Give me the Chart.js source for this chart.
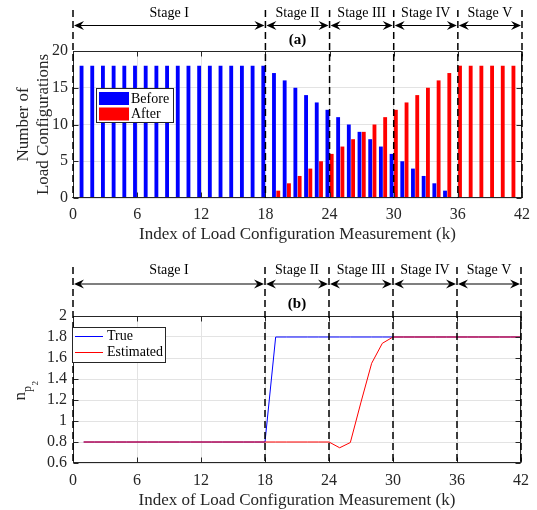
<!DOCTYPE html>
<html><head><meta charset="utf-8">
<script src="https://cdn.jsdelivr.net/npm/chart.js@4.4.1/dist/chart.umd.min.js"></script>
<style>
html,body{margin:0;padding:0;background:#fff;}
canvas{display:block;}
</style></head><body>
<canvas id="topChart" width="537" height="255"></canvas>
<canvas id="botChart" width="537" height="255"></canvas>
<script>
// ---- data ----
const barK = [1,2,3,4,5,6,7,8,9,10,11,12,13,14,15,16,17,18,19,20,21,22,23,24,25,26,27,28,29,30,31,32,33,34,35,36,37,38,39,40,41];
const beforeVals = [18,18,18,18,18,18,18,18,18,18,18,18,18,18,18,18,18,18,17,16,15,14,13,12,11,10,9,8,7,6,5,4,3,2,1,0,0,0,0,0,0];
const afterVals  = [0,0,0,0,0,0,0,0,0,0,0,0,0,0,0,0,0,0,1,2,3,4,5,6,7,8,9,10,11,12,13,14,15,16,17,18,18,18,18,18,18];
const lineK = [1,2,3,4,5,6,7,8,9,10,11,12,13,14,15,16,17,18,19,20,21,22,23,24,25,26,27,28,29,30,31,32,33,34,35,36,37,38,39,40,41,42];
const trueVals = [0.8,0.8,0.8,0.8,0.8,0.8,0.8,0.8,0.8,0.8,0.8,0.8,0.8,0.8,0.8,0.8,0.8,0.8,1.8,1.8,1.8,1.8,1.8,1.8,1.8,1.8,1.8,1.8,1.8,1.8,1.8,1.8,1.8,1.8,1.8,1.8,1.8,1.8,1.8,1.8,1.8,1.8];
const estVals  = [0.8,0.8,0.8,0.8,0.8,0.8,0.8,0.8,0.8,0.8,0.8,0.8,0.8,0.8,0.8,0.8,0.8,0.8,0.8,0.8,0.8,0.8,0.8,0.8,0.745,0.795,1.18,1.55,1.74,1.8,1.8,1.8,1.8,1.8,1.8,1.8,1.8,1.8,1.8,1.8,1.8,1.8];
const stageBounds = [0,18,24,30,36,42];
const stageNames = ['Stage I','Stage II','Stage III','Stage IV','Stage V'];
const xTickVals = [0,6,12,18,24,30,36,42];
const yTicksTop = [0,5,10,15,20];
const yTicksBot = [0.6,0.8,1,1.2,1.4,1.6,1.8,2];
const xTitle = 'Index of Load Configuration Measurement (k)';

const SERIF = "'Liberation Serif','Times New Roman',serif";
const TXT = '#262626';
const GRID = '#e3e3e3';

function head(ctx, tx, ty, dir){
  ctx.beginPath();
  ctx.moveTo(tx, ty);
  ctx.lineTo(tx + dir*10, ty - 4.5);
  ctx.lineTo(tx + dir*6.5, ty);
  ctx.lineTo(tx + dir*10, ty + 4.5);
  ctx.closePath();
  ctx.fill();
}

const framePlugin = {
  id: 'frame',
  afterDatasetsDraw(chart, args, o) {
    const {ctx, chartArea: a, scales: {x, y}} = chart;
    const L = Math.round(a.left)+0.5, R = Math.round(a.right)-0.5, T = Math.round(a.top)+0.5, B = Math.round(a.bottom)-0.5;
    ctx.save();
    ctx.strokeStyle = TXT; ctx.lineWidth = 1;
    ctx.beginPath();
    x.ticks.forEach(t => { const px = Math.round(x.getPixelForValue(t.value))+0.5; ctx.moveTo(px,B); ctx.lineTo(px,B-5); ctx.moveTo(px,T); ctx.lineTo(px,T+5); });
    y.ticks.forEach(t => { const py = Math.round(y.getPixelForValue(t.value))+0.5; ctx.moveTo(L,py); ctx.lineTo(L+5,py); ctx.moveTo(R,py); ctx.lineTo(R-5,py); });
    ctx.stroke();
    ctx.strokeRect(L, T, R-L, B-T);
    // dashed stage boundaries
    ctx.strokeStyle = '#000'; ctx.lineWidth = 1.5; ctx.setLineDash([7,4]);
    stageBounds.forEach(b => {
      const px = x.getPixelForValue(b);
      ctx.beginPath(); ctx.moveTo(px, o.lineTop); ctx.lineTo(px, a.bottom); ctx.stroke();
    });
    ctx.setLineDash([]);
    // arrows + labels
    ctx.lineWidth = 1.2; ctx.fillStyle = '#000';
    ctx.textAlign = 'center'; ctx.textBaseline = 'middle';
    for (let i = 0; i < stageNames.length; i++) {
      const x1 = x.getPixelForValue(stageBounds[i]), x2 = x.getPixelForValue(stageBounds[i+1]);
      ctx.beginPath(); ctx.moveTo(x1+3, o.arrowY); ctx.lineTo(x2-3, o.arrowY); ctx.stroke();
      head(ctx, x1+1, o.arrowY, 1); head(ctx, x2-1, o.arrowY, -1);
      ctx.font = '14px ' + SERIF;
      ctx.fillText(stageNames[i], (x1+x2)/2, o.labelY);
    }
    ctx.font = 'bold 15px ' + SERIF;
    ctx.fillText(o.tag, x.getPixelForValue(o.tagK), o.tagY);
    ctx.restore();
  },
  afterDraw(chart, args, o) {
    const ctx = chart.ctx;
    const lg = o.legend;
    ctx.save();
    ctx.fillStyle = '#fff';
    ctx.fillRect(lg.x, lg.y, lg.w, lg.h);
    ctx.strokeStyle = TXT; ctx.lineWidth = 1;
    ctx.strokeRect(lg.x+0.5, lg.y+0.5, lg.w, lg.h);
    ctx.font = '14px ' + SERIF; ctx.textAlign = 'left'; ctx.textBaseline = 'middle';
    chart.data.datasets.forEach((ds, i) => {
      const ry = lg.rows[i];
      if (lg.kind === 'box') {
        ctx.fillStyle = ds.backgroundColor;
        ctx.fillRect(lg.x+3, ry-6.5, 30, 13);
      } else {
        ctx.strokeStyle = ds.borderColor; ctx.lineWidth = 1;
        ctx.beginPath(); ctx.moveTo(lg.x+3, Math.round(ry)+0.5); ctx.lineTo(lg.x+31, Math.round(ry)+0.5); ctx.stroke();
      }
      ctx.fillStyle = '#000';
      ctx.fillText(ds.label, lg.x + lg.tx, ry + 0.5);
    });
    if (o.npTitle) {
      const a = chart.chartArea;
      const cy = (a.top + a.bottom)/2 + 11;
      ctx.translate(25, cy);
      ctx.rotate(-Math.PI/2);
      ctx.fillStyle = TXT; ctx.textBaseline = 'alphabetic';
      ctx.font = '17px ' + SERIF; ctx.fillText('n', 0, 0);
      ctx.font = '12px ' + SERIF; ctx.fillText('p', 8.5, 6);
      ctx.font = '9px ' + SERIF; ctx.fillText('2', 15, 13);
    }
    ctx.restore();
  }
};

const tickFont = {family: SERIF, size: 16};
const titleFont = {family: SERIF, size: 17, lineHeight: 1.15};
const setTicks = vals => (s => { s.ticks = vals.map(v => ({value: v})); });

// ---- top chart ----
new Chart(document.getElementById('topChart'), {
  type: 'bar',
  data: {
    datasets: [
      {label: 'Before', data: barK.map((k,i)=>({x:k, y:beforeVals[i]})), backgroundColor: '#0000ff', borderWidth: 0},
      {label: 'After',  data: barK.map((k,i)=>({x:k, y:afterVals[i]})),  backgroundColor: '#ff0000', borderWidth: 0}
    ]
  },
  options: {
    responsive: false, animation: false,
    layout: {padding: {left: 0, right: 12, top: 51, bottom: 0}},
    datasets: {bar: {categoryPercentage: 0.8, barPercentage: 0.9}},
    plugins: {
      legend: {display: false}, tooltip: {enabled: false},
      frame: {lineTop: 10, arrowY: 25.5, labelY: 13, tag: '(a)', tagK: 21, tagY: 40,
        legend: {kind: 'box', x: 96, y: 88, w: 77, h: 34, rows: [98.5, 114], tx: 35}}
    },
    scales: {
      x: {type: 'linear', min: 0, max: 42, offset: false,
        grid: {color: GRID, drawTicks: false, offset: false}, border: {display: false},
        afterBuildTicks: setTicks(xTickVals),
        ticks: {autoSkip: false, maxRotation: 0, padding: 7, color: TXT, font: tickFont},
        title: {display: true, text: xTitle, color: TXT, font: titleFont, padding: {top: 0, bottom: 11}},
        afterFit(s){ s.height = 57; }
      },
      y: {min: 0, max: 20,
        grid: {color: GRID, drawTicks: false}, border: {display: false},
        afterBuildTicks: setTicks(yTicksTop),
        ticks: {autoSkip: false, padding: 5, color: TXT, font: tickFont},
        title: {display: true, text: ['Number of', 'Load Configurations'], color: TXT, font: titleFont, padding: {top: 14, bottom: 0}},
        afterFit(s){ s.width = 73; }
      }
    }
  },
  plugins: [framePlugin]
});

// ---- bottom chart ----
new Chart(document.getElementById('botChart'), {
  type: 'line',
  data: {
    datasets: [
      {label: 'True', data: lineK.map((k,i)=>({x:k, y:trueVals[i]})), borderColor: '#0000ff', borderWidth: 1, pointRadius: 0, tension: 0, order: 1},
      {label: 'Estimated', data: lineK.map((k,i)=>({x:k, y:estVals[i]})), borderColor: '#ff0000', borderWidth: 1, pointRadius: 0, tension: 0, order: 0}
    ]
  },
  options: {
    responsive: false, animation: false,
    layout: {padding: {left: 0, right: 12, top: 61, bottom: 0}},
    plugins: {
      legend: {display: false}, tooltip: {enabled: false},
      frame: {lineTop: 12, arrowY: 29, labelY: 15, tag: '(b)', tagK: 21, tagY: 49, npTitle: true,
        legend: {kind: 'line', x: 72, y: 72, w: 93, h: 35, rows: [81, 97], tx: 35}}
    },
    scales: {
      x: {type: 'linear', min: 0, max: 42, offset: false,
        grid: {color: GRID, drawTicks: false}, border: {display: false},
        afterBuildTicks: setTicks(xTickVals),
        ticks: {autoSkip: false, maxRotation: 0, padding: 8, color: TXT, font: tickFont},
        title: {display: true, text: xTitle, color: TXT, font: titleFont, padding: {top: 0, bottom: 0}},
        afterFit(s){ s.height = 47; }
      },
      y: {min: 0.6, max: 2,
        grid: {color: GRID, drawTicks: false}, border: {display: false},
        afterBuildTicks: setTicks(yTicksBot),
        ticks: {autoSkip: false, padding: 6, color: TXT, font: tickFont,
          callback: v => String(Math.round(v*10)/10)},
        afterFit(s){ s.width = 73; }
      }
    }
  },
  plugins: [framePlugin]
});
</script>
</body></html>
